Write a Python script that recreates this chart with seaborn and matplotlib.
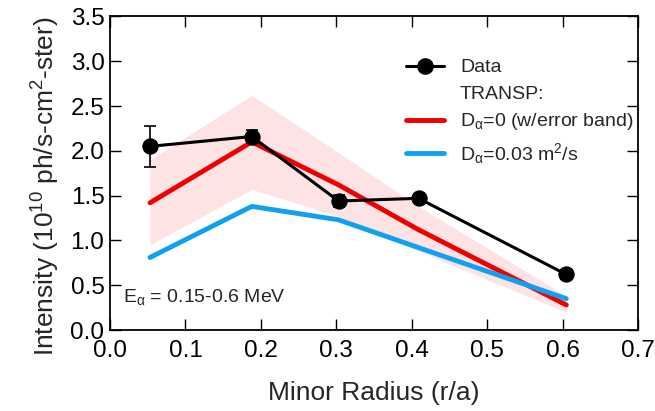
import numpy as np
import pandas as pd
import matplotlib
matplotlib.use("Agg")
import matplotlib.pyplot as plt
import seaborn as sns
from matplotlib.lines import Line2D

# measured points (r/a, intensity) with error bars
data_r = [0.053, 0.188, 0.303, 0.409, 0.605]
data_val = [2.05, 2.16, 1.44, 1.47, 0.62]
data_err = [0.23, 0.07, 0.07, 0.05, 0.05]

# TRANSP simulations
sim_r = [0.053, 0.188, 0.303, 0.409, 0.605]
d0_val = [1.42, 2.10, 1.62, 1.12, 0.28]
d0_low = [0.95, 1.57, 1.27, 0.88, 0.20]
d0_high = [1.90, 2.62, 1.98, 1.38, 0.38]
d003_val = [0.81, 1.38, 1.23, 0.92, 0.35]

x_ticks = [0.0, 0.1, 0.2, 0.3, 0.4, 0.5, 0.6, 0.7]
y_ticks = [0.0, 0.5, 1.0, 1.5, 2.0, 2.5, 3.0, 3.5]

sns.set_theme(style="ticks")
plt.rcParams["font.family"] = ["Liberation Sans", "DejaVu Sans"]
plt.rcParams["mathtext.fontset"] = "custom"
plt.rcParams["mathtext.rm"] = "Liberation Sans"
plt.rcParams["mathtext.it"] = "Liberation Sans"
plt.rcParams["mathtext.bf"] = "Liberation Sans:bold"

fig = plt.figure(figsize=(6.55, 4.11), dpi=100)
ax = fig.add_axes([0.168, 0.197, 0.806, 0.763])

red = "#ee0000"
blue = "#10a0f0"

ax.fill_between(sim_r, d0_low, d0_high, color="#fde3e3", lw=0, zorder=1)

sim_df = pd.DataFrame({"r": sim_r, "d0": d0_val, "d003": d003_val})
sns.lineplot(data=sim_df, x="r", y="d0", color=red, lw=3.5, ax=ax, zorder=2)
sns.lineplot(data=sim_df, x="r", y="d003", color=blue, lw=3.5, ax=ax, zorder=2)

data_df = pd.DataFrame({"r": data_r, "val": data_val})
sns.lineplot(data=data_df, x="r", y="val", color="black", lw=2.2, marker="o",
             markersize=11, markeredgecolor="black", ax=ax, zorder=4)
ax.errorbar(data_r, data_val, yerr=data_err, fmt="none", ecolor="black",
            elinewidth=1.2, capsize=4, capthick=1.2, zorder=3)

ax.set_xlim(0.0, 0.7)
ax.set_ylim(0.0, 3.5)
ax.set_xticks(x_ticks)
ax.set_yticks(y_ticks)
ax.set_xticklabels([f"{t:.1f}" for t in x_ticks])
ax.set_yticklabels([f"{t:.1f}" for t in y_ticks])
ax.tick_params(direction="in", length=8, width=1, top=True, right=True,
               labelsize=17.5, colors="black")
ax.tick_params(axis="x", pad=7)
ax.tick_params(axis="y", pad=4)
for s in ax.spines.values():
    s.set_visible(True)
    s.set_linewidth(1.3)
    s.set_color("black")

ax.set_xlabel("Minor Radius (r/a)", fontsize=19, labelpad=14)
ax.set_ylabel(r"Intensity (10$^{10}$ ph/s-cm$^{2}$-ster)", fontsize=19, labelpad=6)
ax.yaxis.label.set_y(0.46)

ax.text(0.025, 0.105, r"E$_{\alpha}$ = 0.15-0.6 MeV", transform=ax.transAxes,
        fontsize=14, ha="left", va="center")

handles = [
    Line2D([], [], color="black", lw=2.2, marker="o", markersize=11),
    Line2D([], [], color="none"),
    Line2D([], [], color=red, lw=3.5),
    Line2D([], [], color=blue, lw=3.5),
]
labels = ["Data", "TRANSP:", r"D$_{\alpha}$=0 (w/error band)",
          r"D$_{\alpha}$=0.03 m$^{2}$/s"]
ax.legend(handles, labels, loc="upper left", bbox_to_anchor=(0.545, 0.89),
          frameon=False, fontsize=14, handlelength=2.0, handletextpad=0.8,
          labelspacing=0.45, borderaxespad=0)

fig.savefig("out.png", dpi=100)
